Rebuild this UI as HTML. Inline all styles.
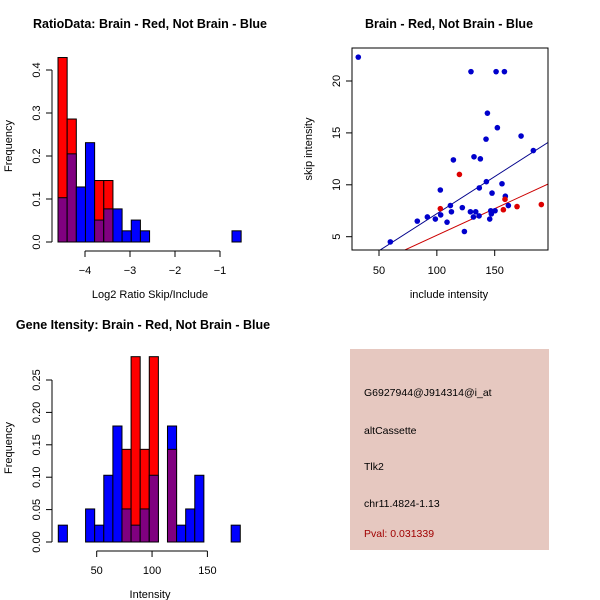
<!DOCTYPE html>
<html><head><meta charset="utf-8"><style>
html,body{margin:0;padding:0;background:#fff;}
svg{display:block;font-family:"Liberation Sans",sans-serif;}
</style></head><body>
<svg id="c" width="600" height="600" xmlns="http://www.w3.org/2000/svg"></svg>
<script>
// ---- Panel 1: ratio histogram ----
const ratioBinStart = -4.6;
const ratioBinWidth = 0.2035;
const ratioBlue = [0.103,0.205,0.128,0.231,0.051,0.077,0.077,0.026,0.051,0.026,0,0,0,0,0,0,0,0,0,0.026];
const ratioRed  = [0.429,0.286,0,0,0.143,0.143,0,0,0,0,0,0,0,0,0,0,0,0,0,0];
const ratioXTicks = [-4,-3,-2,-1];
const ratioYTicks = ["0.0","0.1","0.2","0.3","0.4"];
// ---- Panel 2: scatter ----
const blueX = [32.1,129.5,151.2,158.4,143.7,152.3,142.5,172.8,183.4,132.1,137.6,114.3,142.8,156.3,136.7,147.7,103,159.2,111.7,122,103.3,112.6,129,133.6,146.6,150.3,161.8,91.8,83.1,98.7,108.8,136.5,131.6,145.7,147.1,123.8,59.8];
const blueY = [22.3,20.9,20.9,20.9,16.9,15.5,14.4,14.7,13.3,12.7,12.5,12.4,10.3,10.1,9.7,9.2,9.5,8.9,8.0,7.8,7.1,7.4,7.4,7.4,7.5,7.5,8.0,6.9,6.5,6.7,6.4,7.0,6.9,6.7,7.2,5.5,4.5];
const redX = [119.5,103,158.9,157.5,169.3,190.3];
const redY = [11.0,7.7,8.6,7.6,7.9,8.1];
const blueFit = [0.08,0.0714];
const redFit = [0.01,0.0513];
const scatXTicks = [50,100,150];
const scatYTicks = [5,10,15,20];
// ---- Panel 3: intensity histogram ----
const intBinStart = 15.3;
const intBinWidth = 8.22;
const intBlue = [0.026,0,0,0.051,0.026,0.103,0.179,0.051,0.026,0.051,0.103,0,0.179,0.026,0.051,0.103,0,0,0,0.026];
const intRed  = [0,0,0,0,0,0,0,0.143,0.286,0.143,0.286,0,0.143,0,0,0,0,0,0,0];
const intXTicks = [50,100,150];
const intYTicks = ["0.00","0.05","0.10","0.15","0.20","0.25"];

const NS="http://www.w3.org/2000/svg";
const svg=document.getElementById('c');
function mk(tag,attrs,parent){const e=document.createElementNS(NS,tag);for(const k in attrs)e.setAttribute(k,attrs[k]);(parent||svg).appendChild(e);return e;}
function txt(s,x,y,opts,parent){const t=mk('text',Object.assign({x:x,y:y,'font-size':11,fill:'#000','text-anchor':'middle'},opts||{}),parent);t.textContent=s;return t;}

function hist(g,sx,sy,start,w,blue,red){
  for(let i=0;i<blue.length;i++){
    const x0=sx(start+i*w),x1=sx(start+(i+1)*w);
    const b=blue[i],r=red[i];
    const hi=Math.max(b,r),lo=Math.min(b,r);
    if(hi>0){
      const bar=mk('rect',{x:x0,y:sy(hi),width:x1-x0,height:sy(0)-sy(hi),fill:r>b?'#ff0000':'#0000ff',stroke:'#000','stroke-width':1},g);
      
      
    }
    if(lo>0){
      const ov=mk('rect',{x:x0,y:sy(lo),width:x1-x0,height:sy(0)-sy(lo),fill:'#800080',stroke:'#000','stroke-width':1},g);
      
      
    }
  }
}

// Panel 1
{
  const g=mk('g',{});
  
  
  const sx=v=>85+(v+4)*45, sy=v=>242-v*430;
  hist(g,sx,sy,ratioBinStart,ratioBinWidth,ratioBlue,ratioRed);
  mk('line',{x1:52,x2:52,y1:sy(0),y2:sy(0.4),stroke:'#000'},g);
  ratioYTicks.forEach(t=>{const y=sy(parseFloat(t));mk('line',{x1:46,x2:52,y1:y,y2:y,stroke:'#000'},g);txt(t,40,y,{transform:`rotate(-90 40 ${y})`},g);});
  mk('line',{x1:sx(-4),x2:sx(-1),y1:251,y2:251,stroke:'#000'},g);
  ratioXTicks.forEach(t=>{const x=sx(t);mk('line',{x1:x,x2:x,y1:251,y2:257,stroke:'#000'},g);txt(String(t).replace('-','−'),x,274,{},g);});
  txt('Log2 Ratio Skip/Include',150,298,{},g);
  txt('Frequency',12,146,{transform:'rotate(-90 12 146)'},g);
  txt('RatioData: Brain - Red, Not Brain - Blue',150,28,{'font-weight':'bold','font-size':12.5},g);
}
// Panel 2
{
  const g=mk('g',{});
  
  
  const sx=v=>379+(v-50)*1.157, sy=v=>236.7-(v-5)*10.38;
  const clip=mk('clipPath',{id:'sc'},g);mk('rect',{x:352,y:48,width:196,height:202},clip);
  const pg=mk('g',{'clip-path':'url(#sc)'},g);
  [[blueFit,'#00008b'],[redFit,'#cc0000']].forEach(([f,c],k)=>{
    const l=mk('line',{x1:sx(0),y1:sy(f[0]),x2:sx(250),y2:sy(f[0]+f[1]*250),stroke:c,'stroke-width':1},pg);
    
    
  });
  blueX.forEach((x,i)=>{const p=mk('circle',{cx:sx(x),cy:sy(blueY[i]),r:2.8,fill:'#0000cc'},pg);
    
    });
  redX.forEach((x,i)=>{const p=mk('circle',{cx:sx(x),cy:sy(redY[i]),r:2.8,fill:'#dd0000'},pg);
    
    });
  mk('rect',{x:352,y:48,width:196,height:202,fill:'none',stroke:'#000'},g);
  scatXTicks.forEach(t=>{const x=sx(t);mk('line',{x1:x,x2:x,y1:250,y2:256,stroke:'#000'},g);txt(t,x,274,{},g);});
  scatYTicks.forEach(t=>{const y=sy(t);mk('line',{x1:346,x2:352,y1:y,y2:y,stroke:'#000'},g);txt(t,340,y,{transform:`rotate(-90 340 ${y})`},g);});
  txt('include intensity',449,298,{},g);
  txt('skip intensity',312,149,{transform:'rotate(-90 312 149)'},g);
  txt('Brain - Red, Not Brain - Blue',449,28,{'font-weight':'bold','font-size':12.5},g);
}
// Panel 3
{
  const g=mk('g',{});
  
  
  const sx=v=>96.7+(v-50)*1.107, sy=v=>542-v*648;
  hist(g,sx,sy,intBinStart,intBinWidth,intBlue,intRed);
  mk('line',{x1:52,x2:52,y1:sy(0),y2:sy(0.25),stroke:'#000'},g);
  intYTicks.forEach(t=>{const y=sy(parseFloat(t));mk('line',{x1:46,x2:52,y1:y,y2:y,stroke:'#000'},g);txt(t,40,y,{transform:`rotate(-90 40 ${y})`},g);});
  mk('line',{x1:sx(50),x2:sx(150),y1:551,y2:551,stroke:'#000'},g);
  intXTicks.forEach(t=>{const x=sx(t);mk('line',{x1:x,x2:x,y1:551,y2:557,stroke:'#000'},g);txt(t,x,574,{},g);});
  txt('Intensity',150,598,{},g);
  txt('Frequency',12,448,{transform:'rotate(-90 12 448)'},g);
  txt('Gene Itensity: Brain - Red, Not Brain - Blue',143,329,{'font-weight':'bold','font-size':12.5},g);
}
// Panel 4
{
  const g=mk('g',{});
  
  
  mk('rect',{x:350,y:349,width:199,height:201,fill:'#e6c8c0'},g);
  const lines=[['G6927944@J914314@i_at',396,'#000'],['altCassette',434,'#000'],['Tlk2',470,'#000'],['chr11.4824-1.13',507,'#000'],['Pval: 0.031339',537,'#a00000']];
  lines.forEach(([s,y,c])=>{const t=txt(s,364,y,{'text-anchor':'start',fill:c,'font-size':10.5},g);
    
    });
}
</script>
</body></html>
